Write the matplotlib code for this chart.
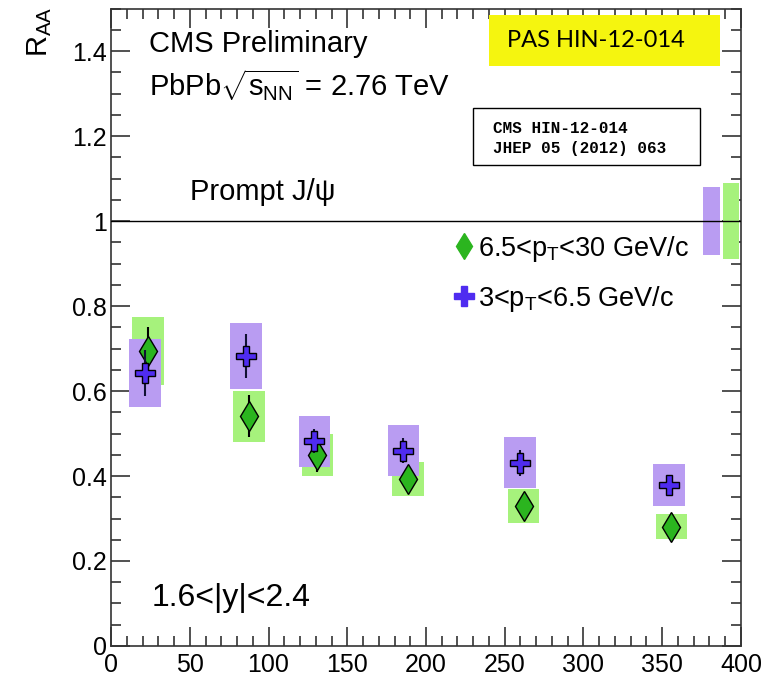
import matplotlib
matplotlib.use("Agg")
import matplotlib.pyplot as plt
from matplotlib.lines import Line2D
from matplotlib.patches import Rectangle
from matplotlib.ticker import MultipleLocator

plt.rcParams["font.family"] = ["Liberation Sans", "DejaVu Sans"]
plt.rcParams["mathtext.fontset"] = "custom"
plt.rcParams["mathtext.rm"] = "Liberation Sans"
plt.rcParams["mathtext.it"] = "Liberation Sans:italic"

# high pT bin, 6.5 < pT < 30 GeV/c (green diamonds)
npart_hi = [23.6, 87.5, 131.0, 188.5, 262.0, 355.8]
raa_hi = [0.693, 0.541, 0.450, 0.392, 0.330, 0.281]
stat_hi = [0.058, 0.050, 0.040, 0.030, 0.025, 0.020]
syst_hi = [0.080, 0.060, 0.049, 0.040, 0.040, 0.030]

# low pT bin, 3 < pT < 6.5 GeV/c (blue crosses)
npart_lo = [21.5, 85.8, 129.1, 185.7, 259.7, 354.2]
raa_lo = [0.642, 0.682, 0.482, 0.460, 0.431, 0.379]
stat_lo = [0.054, 0.052, 0.028, 0.030, 0.030, 0.020]
syst_lo = [0.080, 0.078, 0.060, 0.060, 0.060, 0.050]

# global uncertainties drawn at R_AA = 1
glob_lo = 0.08
glob_hi = 0.09

green_box = "#a6f27c"
purple_box = "#b99cf2"
green_mk = "#2bb51f"
blue_mk = "#4f2cf0"

fig = plt.figure(figsize=(7.70, 6.77), dpi=100)
ax = fig.add_axes([0.1442, 0.0458, 0.8181, 0.9416])

box_w = 20
ax.bar(npart_hi, [2 * s for s in syst_hi], width=box_w,
       bottom=[r - s for r, s in zip(raa_hi, syst_hi)],
       color=green_box, zorder=1)
ax.bar(npart_lo, [2 * s for s in syst_lo], width=box_w,
       bottom=[r - s for r, s in zip(raa_lo, syst_lo)],
       color=purple_box, zorder=2)

# global boxes at the right edge
ax.bar([381.3], [2 * glob_lo], width=10.5, bottom=1 - glob_lo,
       color=purple_box, zorder=2)
ax.bar([393.5], [2 * glob_hi], width=10, bottom=1 - glob_hi,
       color=green_box, zorder=2)

ax.axhline(1.0, color="black", lw=1.0, zorder=3)

ax.errorbar(npart_hi, raa_hi, yerr=stat_hi, fmt="d", ms=15,
            mfc=green_mk, mec="black", mew=1.0, ecolor="black",
            elinewidth=1.5, capsize=0, zorder=4)
ax.errorbar(npart_lo, raa_lo, yerr=stat_lo, fmt="P", ms=15,
            mfc=blue_mk, mec="black", mew=1.0, ecolor="#111133",
            elinewidth=1.5, capsize=0, zorder=5)

ax.set_xlim(0, 400)
ax.set_ylim(0, 1.5)
ax.xaxis.set_major_locator(MultipleLocator(50))
ax.xaxis.set_minor_locator(MultipleLocator(10))
ax.yaxis.set_major_locator(MultipleLocator(0.2))
ax.yaxis.set_minor_locator(MultipleLocator(0.05))
ax.set_yticks([0, 0.2, 0.4, 0.6, 0.8, 1.0, 1.2, 1.4])
ax.set_yticklabels(["0", "0.2", "0.4", "0.6", "0.8", "1", "1.2", "1.4"])
ax.tick_params(axis="both", which="both", direction="in",
               top=True, right=True, labelsize=18, color="#333333")
ax.tick_params(axis="x", which="major", length=14, width=1.2, pad=5)
ax.tick_params(axis="x", which="minor", length=7, width=1.2)
ax.tick_params(axis="y", which="major", length=14, width=1.2, pad=3)
ax.tick_params(axis="y", which="minor", length=7, width=1.2)
for sp in ax.spines.values():
    sp.set_color("#333333")
    sp.set_linewidth(1.2)

fig.text(0.052, 0.99, r"R$_{\rm AA}$", rotation=90, ha="center", va="top",
         fontsize=21)

ax.text(0.061, 0.932, "CMS Preliminary", transform=ax.transAxes,
        fontsize=21, va="baseline")
ax.text(0.061, 0.862, r"PbPb$\sqrt{\rm s_{NN}}$ = 2.76 TeV",
        transform=ax.transAxes, fontsize=21, va="baseline")
ax.text(0.126, 0.699, "Prompt J/ψ", transform=ax.transAxes,
        fontsize=21, va="baseline")
ax.text(0.064, 0.062, "1.6<|y|<2.4", transform=ax.transAxes,
        fontsize=23, va="baseline")

# yellow label
ax.add_patch(Rectangle((0.600, 0.910), 0.367, 0.080, transform=ax.transAxes,
                       fc="#f5f50f", ec="none", zorder=6))
ax.text(0.770, 0.950, "PAS HIN-12-014", transform=ax.transAxes,
        fontsize=17, family=["Lato", "DejaVu Sans"], ha="center",
        va="center", zorder=7)

# reference box
ax.add_patch(Rectangle((0.5746, 0.7545), 0.3603, 0.0894,
                       transform=ax.transAxes, fc="white", ec="black",
                       lw=1.0, zorder=6))
ax.text(0.6059, 0.8047, "CMS HIN-12-014", transform=ax.transAxes,
        fontsize=11.5, family=["Liberation Mono", "DejaVu Sans Mono"],
        weight="bold", va="baseline", zorder=7)
ax.text(0.6059, 0.7733, "JHEP 05 (2012) 063", transform=ax.transAxes,
        fontsize=11.5, family=["Liberation Mono", "DejaVu Sans Mono"],
        weight="bold", va="baseline", zorder=7)

handles = [
    Line2D([], [], ls="none", marker="d", ms=13, mfc=green_mk,
           mec=green_mk),
    Line2D([], [], ls="none", marker="P", ms=14, mfc=blue_mk, mec=blue_mk),
]
ax.legend(handles, [r"6.5<p$_{\rm T}$<30 GeV/c", r"3<p$_{\rm T}$<6.5 GeV/c"],
          loc="upper left", bbox_to_anchor=(0.523, 0.664), frameon=False,
          fontsize=19.5, handletextpad=0.05, handlelength=0.95,
          labelspacing=0.75, borderaxespad=0)

fig.savefig("out.png", dpi=100)
